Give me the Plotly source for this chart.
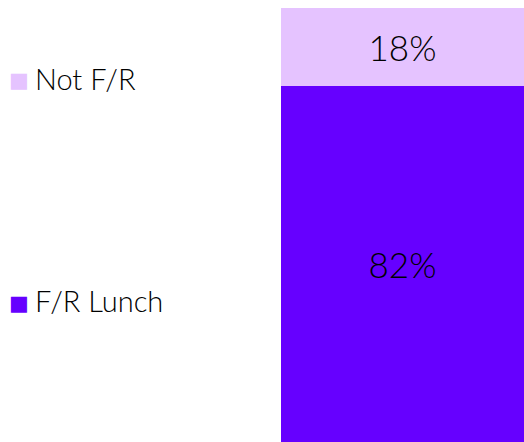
import plotly.graph_objects as go

# lunch status split (percent of students)
categories = ["F/R Lunch", "Not F/R"]
values = [82, 18]
colors = ["#6600FF", "#E5C3FF"]
label_y = [0.325, 0.838]  # where the side labels sit (paper coords)

FONT = "Lato, 'Noto Sans', sans-serif"

fig = go.Figure()

for cat, val, col in zip(categories, values, colors):
    fig.add_trace(go.Bar(
        x=[0],
        y=[val],
        width=1,
        name=cat,
        marker=dict(color=col, line=dict(width=0)),
        texttemplate="%{y}%",
        textposition="inside",
        insidetextanchor="middle",
        textfont=dict(size=35, color="black", family=FONT, weight=300),
        hoverinfo="skip",
    ))

# side labels with coloured square keys
for cat, col, ly in zip(categories, colors, label_y):
    fig.add_annotation(
        x=0, y=ly, xref="paper", yref="paper",
        xanchor="left", yanchor="middle", xshift=7, yshift=-2,
        text="■", showarrow=False,
        font=dict(size=21, color=col, family="DejaVu Sans"),
    )
    fig.add_annotation(
        x=0, y=ly, xref="paper", yref="paper",
        xanchor="left", yanchor="middle", xshift=33,
        text=cat, showarrow=False,
        font=dict(size=29, color="black", family=FONT, weight=300),
    )

fig.update_layout(
    barmode="stack",
    width=524,
    height=442,
    margin=dict(l=0, r=0, t=8, b=0),
    paper_bgcolor="white",
    plot_bgcolor="white",
    showlegend=False,
    xaxis=dict(domain=[281 / 524, 1], range=[-0.5, 0.5], visible=False),
    yaxis=dict(range=[0, 100], visible=False),
    uniformtext=dict(minsize=34, mode="show"),
)

# drop the default page margin so the figure fills the window
fig.write_html(
    "out.html",
    config={"displayModeBar": False},
    post_script="document.body.style.margin='0';",
)
